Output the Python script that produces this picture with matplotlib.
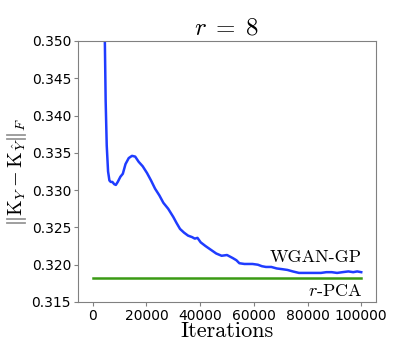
import matplotlib
matplotlib.use("Agg")
import matplotlib.pyplot as plt

plt.rcParams['mathtext.fontset'] = 'cm'
plt.rcParams['axes.unicode_minus'] = False

# WGAN-GP curve
iters = [4300, 4500, 4800, 5200, 5700, 6200, 6700, 7300, 8000, 8600, 9300, 10300,
         11200, 12200, 13400, 14600, 15800, 17100, 18600, 20200, 21700, 23200,
         24800, 26300, 28100, 30000, 31200, 32500, 34000, 35500, 37000, 38000,
         39000, 40200, 42000, 44000, 46000, 48000, 50000, 52100, 53500, 54600,
         56500, 58000, 59500, 61500, 63000, 64500, 66500, 68500, 70600, 72500,
         74500, 76800, 79000, 81000, 83000, 85000, 87000, 89000, 91000, 93000,
         95200, 97000, 98500, 100000]
wgan = [0.3560, 0.3500, 0.3420, 0.3360, 0.3325, 0.3313, 0.3311, 0.3311, 0.3308, 0.3307,
        0.3311, 0.3318, 0.3322, 0.3335, 0.3343, 0.3346, 0.3345, 0.3338, 0.3332, 0.3323,
        0.3313, 0.3302, 0.3293, 0.3283, 0.3275, 0.3264, 0.3256, 0.3248, 0.3243, 0.3239,
        0.3237, 0.3235, 0.3236, 0.3230, 0.3225, 0.3220, 0.3215, 0.3212, 0.3213, 0.3209,
        0.3206, 0.3202, 0.3201, 0.3201, 0.3201, 0.3200, 0.3198, 0.3197, 0.3197, 0.3195,
        0.3194, 0.3193, 0.3191, 0.3189, 0.3189, 0.3189, 0.3189, 0.3189, 0.3190, 0.3190,
        0.3189, 0.3190, 0.3191, 0.3190, 0.3191, 0.3190]

pca_x = [0, 100000]
pca = [0.3182, 0.3182]

yticks = [0.315, 0.320, 0.325, 0.330, 0.335, 0.340, 0.345, 0.350]
xticks = [0, 20000, 40000, 60000, 80000, 100000]

fig = plt.figure(figsize=(4.15, 3.4), dpi=100)
ax = fig.add_axes([78 / 415, 38 / 340, 298 / 415, 261 / 340])

ax.plot(iters, wgan, color='#1f3cff', lw=1.8)
ax.plot(pca_x, pca, color='#3a9a14', lw=1.8)

ax.text(100000, 0.3199, 'WGAN-GP', ha='right', va='bottom', fontsize=13,
        family='cmr10')
ax.text(100300, 0.3175, r'$r$-PCA', ha='right', va='top', fontsize=13,
        family='cmr10')

ax.set_xlim(-5500, 105500)
ax.set_ylim(0.315, 0.350)
ax.set_xticks(xticks)
ax.set_yticks(yticks)
ax.set_xticklabels([str(v) for v in xticks], fontsize=10)
ax.set_yticklabels(['%.3f' % v for v in yticks], fontsize=10)
ax.tick_params(length=3, color='#808080', pad=2)

for s in ax.spines.values():
    s.set_color('#808080')

ax.set_title(r'$r\;=\;8$', fontsize=18, pad=5)
ax.set_xlabel('Iterations', fontsize=16, family='cmr10', labelpad=-1)
ax.set_ylabel(r'$\|\mathrm{K}_Y - \mathrm{K}_{\hat{Y}}\|_F$', fontsize=14.5, labelpad=2)

fig.savefig('out.png', dpi=100)
